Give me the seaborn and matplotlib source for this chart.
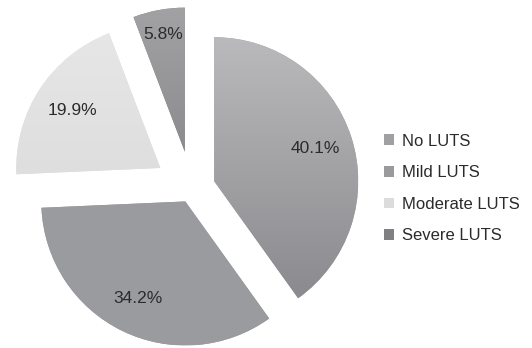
import numpy as np
import matplotlib
matplotlib.use('Agg')
import matplotlib.pyplot as plt
from matplotlib.patches import Patch
from matplotlib.colors import to_rgb
import seaborn as sns
sns.set_theme(style="white")
plt.rcParams['font.family'] = ['Liberation Sans', 'DejaVu Sans']

# Data
categories = ['No LUTS', 'Mild LUTS', 'Moderate LUTS', 'Severe LUTS']
shares = [40.1, 34.2, 19.9, 5.8]
explode = [0.165, 0.10, 0.26, 0.26]
label_dist = [0.74, 0.75, 0.73, 0.83]

# gradient colours for each slice (top, bottom) and legend swatch
grad_top = ['#bababc', '#9c9d9f', '#e7e7e7', '#a2a2a4']
grad_bot = ['#86868a', '#9a9b9e', '#d6d6d6', '#767678']
swatch = ['#a0a0a2', '#9a9a9c', '#dcdcdc', '#808082']

W, H, R = 532, 348, 144.0
cx, cy = 191.6, 188.5  # pie centre in pixels (from top-left)

fig = plt.figure(figsize=(W / 100, H / 100), dpi=100)
ax = fig.add_axes([0, 0, 1, 1])

wedges, texts, autotexts = ax.pie(
    shares, explode=explode, startangle=90, counterclock=False,
    colors=swatch, autopct='%.1f%%', pctdistance=0.75,
    wedgeprops=dict(linewidth=0),
    textprops=dict(fontsize=12.5, color='#2b2b2b'))

for i, w in enumerate(wedges):
    # vertical gradient clipped to the wedge
    c0 = np.array(to_rgb(grad_top[i]))
    c1 = np.array(to_rgb(grad_bot[i]))
    t = np.linspace(0, 1, 256)[:, None, None]
    img = (1 - t) * c0 + t * c1
    x0, y0 = w.center
    im = ax.imshow(img, extent=(x0 - 1, x0 + 1, y0 - 1, y0 + 1),
                   aspect='auto', zorder=w.get_zorder() + 0.1,
                   interpolation='bilinear')
    im.set_clip_path(w)
    # label along the bisector
    th = np.deg2rad((w.theta1 + w.theta2) / 2)
    autotexts[i].set_position((x0 + label_dist[i] * np.cos(th),
                               y0 + label_dist[i] * np.sin(th)))
    autotexts[i].set_zorder(5)

ax.set_aspect('auto')
ax.set_xlim(-cx / R, (W - cx) / R)
ax.set_ylim(-(H - cy) / R, cy / R)
ax.axis('off')

handles = [Patch(facecolor=c, edgecolor='none') for c in swatch]
fig.legend(handles, categories, loc='center left',
           bbox_to_anchor=(384 / W, (H - 188.5) / H), frameon=False,
           fontsize=12, handlelength=0.6, handleheight=0.6,
           handletextpad=0.45, labelspacing=1.0, borderpad=0,
           borderaxespad=0, labelcolor='#2b2b2b')

fig.savefig('out.png', dpi=100)
